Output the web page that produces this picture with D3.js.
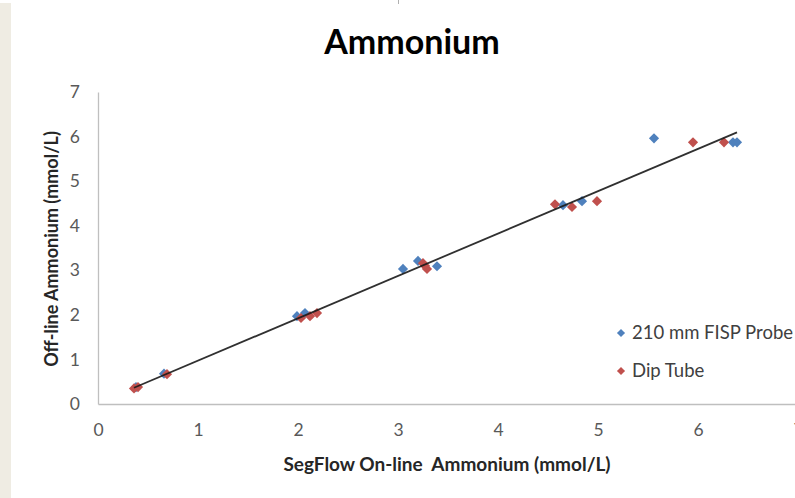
<!DOCTYPE html>
<html>
<head>
<meta charset="utf-8">
<script src="https://cdnjs.cloudflare.com/ajax/libs/d3/7.8.5/d3.min.js"></script>
<style>
  html, body { margin: 0; padding: 0; background: #fff; }
  svg { display: block; }
</style>
</head>
<body>
<svg id="chart" width="795" height="498"></svg>
<script>
// SegFlow on-line vs off-line ammonium measurements (mmol/L)
const probeOnline  = [0.38, 0.66, 1.99, 2.07, 3.05, 3.20, 3.39, 4.65, 4.84, 5.56, 6.35, 6.39];
const probeOffline = [0.38, 0.68, 1.97, 2.04, 3.03, 3.21, 3.09, 4.46, 4.55, 5.96, 5.87, 5.87];

const dipOnline  = [0.36, 0.40, 0.69, 2.03, 2.12, 2.19, 3.25, 3.27, 3.29, 4.57, 4.74, 4.99, 5.95, 6.26];
const dipOffline = [0.35, 0.38, 0.67, 1.93, 1.97, 2.04, 3.16, 3.10, 3.03, 4.48, 4.42, 4.55, 5.87, 5.87];

const xTicks = [0, 1, 2, 3, 4, 5, 6, 7];
const yTicks = [0, 1, 2, 3, 4, 5, 6, 7];

const seriesNames = ["210 mm FISP Probe", "Dip Tube"];
const seriesColors = ["#4f81bd", "#c0504d"];

const FONT = "Lato, 'Open Sans', sans-serif";

const svg = d3.select("#chart");

// side strip of the surrounding page
svg.append("rect").attr("x", 0).attr("y", 3).attr("width", 11).attr("height", 495)
  .attr("fill", "#efece3");
svg.append("line").attr("x1", 398.5).attr("x2", 398.5).attr("y1", 0).attr("y2", 4)
  .attr("stroke", "#b0b0b0").attr("stroke-width", 1);

const x = d3.scaleLinear().domain([0, 7]).range([98, 798]);
const y = d3.scaleLinear().domain([0, 7]).range([404, 92]);

// axes: plain light lines, labels without tick marks
const xAxis = svg.append("g").attr("transform", `translate(0,${y(0)})`)
  .call(d3.axisBottom(x).tickValues(xTicks).tickSize(0).tickPadding(20).tickFormat(d3.format("d")));
const yAxis = svg.append("g").attr("transform", `translate(${x(0)},0)`)
  .call(d3.axisLeft(y).tickValues(yTicks).tickSize(0).tickPadding(18).tickFormat(d3.format("d")));

[xAxis, yAxis].forEach(g => {
  g.select(".domain").attr("stroke", "#bfbfbf").attr("stroke-width", 1.3);
  g.selectAll("text").attr("font-family", FONT).attr("font-size", 17.5).attr("fill", "#595959");
});

// least-squares trend line over both series
const allX = probeOnline.concat(dipOnline);
const allY = probeOffline.concat(dipOffline);
const mx = d3.mean(allX), my = d3.mean(allY);
const slope = d3.sum(allX, (v, i) => (v - mx) * (allY[i] - my)) / d3.sum(allX, v => (v - mx) * (v - mx));
const intercept = my - slope * mx;
const [x0, x1] = d3.extent(allX);

const diamond = d3.symbol().type(d3.symbolDiamond2);

function drawSeries(xs, ys, color) {
  svg.append("g").selectAll("path")
    .data(xs.map((v, i) => [v, ys[i]]))
    .join("path")
    .attr("transform", d => `translate(${x(d[0])},${y(d[1])})`)
    .attr("d", diamond.size(66)())
    .attr("fill", color);
}
drawSeries(probeOnline, probeOffline, seriesColors[0]);
drawSeries(dipOnline, dipOffline, seriesColors[1]);

// linear trend line on top of the markers
svg.append("line")
  .attr("x1", x(x0)).attr("y1", y(slope * x0 + intercept))
  .attr("x2", x(x1)).attr("y2", y(slope * x1 + intercept))
  .attr("stroke", "#1a1a1a").attr("stroke-width", 1.8).attr("opacity", 0.9);

// title
svg.append("text").attr("x", 412).attr("y", 54).attr("text-anchor", "middle")
  .attr("font-family", FONT).attr("font-weight", "bold").attr("font-size", 34)
  .attr("fill", "#000").text("Ammonium");

// axis titles
svg.append("text").attr("x", 447).attr("y", 471).attr("text-anchor", "middle")
  .attr("font-family", FONT).attr("font-weight", "bold").attr("font-size", 19)
  .attr("fill", "#262626").attr("xml:space", "preserve")
  .text("SegFlow On-line  Ammonium (mmol/L)");

svg.append("text").attr("transform", "translate(58,249) rotate(-90)").attr("text-anchor", "middle")
  .attr("font-family", FONT).attr("font-weight", "bold").attr("font-size", 18)
  .attr("fill", "#262626").text("Off-line Ammonium (mmol/L)");

// legend
const legend = svg.append("g");
seriesNames.forEach((name, i) => {
  const ly = 333 + i * 38;
  legend.append("path").attr("transform", `translate(621,${ly})`)
    .attr("d", diamond.size(42)()).attr("fill", seriesColors[i]);
  legend.append("text").attr("x", 632).attr("y", ly + 6)
    .attr("font-family", FONT).attr("font-size", 18.5).attr("fill", "#404040").text(name);
});
</script>
</body>
</html>
